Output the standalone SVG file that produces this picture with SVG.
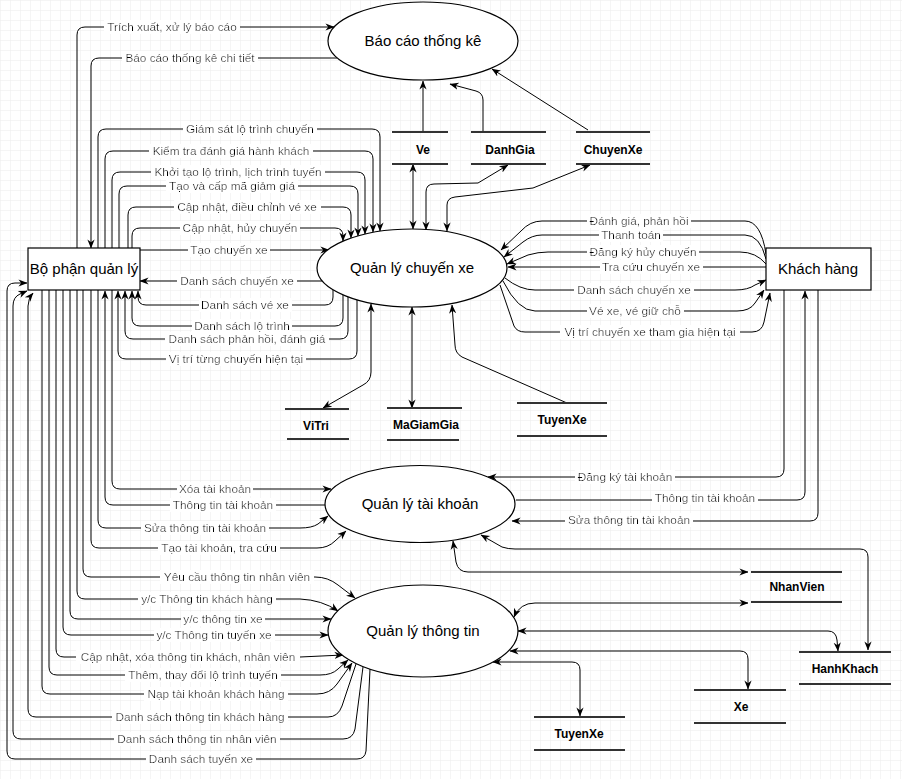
<svg xmlns="http://www.w3.org/2000/svg" width="902" height="779" viewBox="0 0 902 779">
<defs>
<pattern id="grid" width="10" height="10" patternUnits="userSpaceOnUse">
<path d="M10,0 L0,0 L0,10" fill="none" stroke="#ececec" stroke-width="1"/>
</pattern>
<marker id="arr" viewBox="0 0 10 10" refX="9.5" refY="5" markerWidth="9" markerHeight="9" markerUnits="userSpaceOnUse" orient="auto-start-reverse">
<path d="M0,1 L10,5 L0,9 L3,5 z" fill="#000"/>
</marker>
<filter id="bg" x="-0.02" y="0" width="1.04" height="1">
<feFlood flood-color="#fff"/>
<feComposite in="SourceGraphic" operator="over"/>
</filter>
</defs>
<style>
.proc{fill:#fff;stroke:#000;stroke-width:1.2}
.ext{fill:#fff;stroke:#000;stroke-width:1.2}
.nt{font-family:"Liberation Sans",Arial,sans-serif;font-size:15px;fill:#000;text-anchor:middle}
.st{stroke:#333;stroke-width:2}
.stt{font-family:"Liberation Sans",Arial,sans-serif;font-size:12px;font-weight:bold;fill:#000;text-anchor:middle}
.c{fill:none;stroke:#000;stroke-width:1}
.e{marker-end:url(#arr)}
.b{marker-start:url(#arr);marker-end:url(#arr)}
.lb{font-family:"Liberation Sans",Arial,sans-serif;font-size:11.8px;fill:#000;text-anchor:middle;filter:url(#bg)}
</style>
<rect x="0" y="0" width="902" height="779" fill="#fff"/>
<rect x="0" y="0" width="902" height="779" fill="url(#grid)"/>

<g id="connectors">
<!-- Bao cao thong ke -->
<path class="c e" d="M77,248 L77,35 Q77,27 85,27 L334,27"/>
<path class="c e" d="M337,58 L99,58 Q91,58 91,66 L91,248"/>
<path class="c e" d="M423,132 L423,81"/>
<path class="c e" d="M483,132 L483,100 Q483,93 476,91 L450,84"/>
<path class="c e" d="M588,130 L492,69"/>
<!-- stores of Quan ly chuyen xe -->
<path class="c b" d="M413,164 L413,229"/>
<path class="c b" d="M426,230 L426,192 Q426,184 434,184 L478,183 L508,165"/>
<path class="c b" d="M447,231 L447,205 Q447,198 455,197 L533,188 L590,165"/>
<path class="c b" d="M371,304 L371,372 Q371,381 363,385 L323,408"/>
<path class="c b" d="M412,307 L412,408"/>
<path class="c e" d="M567,403 L462,357 Q455,353 455,345 L452,305"/>
<!-- Bo phan quan ly -> Quan ly chuyen xe -->
<path class="c e" d="M98,248 L98,137 Q98,129 106,129 L372,129 Q380,129 380,137 L380,231"/>
<path class="c e" d="M105,248 L105,159 Q105,151 113,151 L365,151 Q373,151 373,159 L373,232"/>
<path class="c e" d="M112,248 L112,180 Q112,172 120,172 L357,172 Q365,172 365,180 L365,234"/>
<path class="c e" d="M119,248 L119,194 Q119,186 127,186 L350,186 Q358,186 358,194 L358,236"/>
<path class="c e" d="M128,248 L128,215 Q128,207 136,207 L343,207 Q351,207 351,215 L351,238"/>
<path class="c e" d="M132,248 L132,236 Q132,228 140,228 L335,228 Q343,228 343,236 L343,241"/>
<path class="c e" d="M140,250 L329,250"/>
<path class="c e" d="M322,281 L140,281"/>
<path class="c e" d="M333,290 L333,297 Q333,305 325,305 L146,305 Q138,305 138,297 L138,291"/>
<path class="c e" d="M343,295 L343,318 Q343,326 335,326 L140,326 Q132,326 132,318 L132,291"/>
<path class="c e" d="M348,297 L348,331 Q348,339 340,339 L133,339 Q125,339 125,331 L125,291"/>
<path class="c e" d="M357,300 L357,351 Q357,359 349,359 L126,359 Q118,359 118,351 L118,291"/>
<!-- Khach hang <-> Quan ly chuyen xe -->
<path class="c e" d="M766,254 Q761,221 745,221 L542,221 Q530,221 521,231 L501,250"/>
<path class="c e" d="M766,259 Q760,235 745,235 L542,235 Q532,235 523,242 L504,257"/>
<path class="c e" d="M766,264 Q756,252 740,252 L548,252 Q538,252 528,255 L507,264"/>
<path class="c e" d="M766,267 L508,267"/>
<path class="c e" d="M505,278 Q520,290 535,290 L735,290 Q748,290 755,285 L766,280"/>
<path class="c e" d="M503,281 Q518,311 535,311 L737,311 Q750,311 755,303 L764,290"/>
<path class="c e" d="M500,285 L514,326 Q517,332 525,332 L752,332 Q762,332 764,322 L770,293"/>
<!-- Khach hang <-> Quan ly tai khoan -->
<path class="c e" d="M784,290 L784,469 Q784,477 776,477 L488,477"/>
<path class="c e" d="M516,500 L797,500 Q805,500 805,492 L805,291"/>
<path class="c e" d="M818,290 L818,513 Q818,521 810,521 L512,521"/>
<!-- Quan ly tai khoan stores -->
<path class="c b" d="M453,541 L456,562 Q458,572 468,572 L748,572"/>
<path class="c b" d="M481,535 L502,547 Q508,549 515,549 L860,549 Q868,549 868,557 L868,650"/>
<!-- Quan ly thong tin stores -->
<path class="c b" d="M514,617 Q520,603 535,603 L748,603"/>
<path class="c b" d="M518,631 L828,631 Q836,631 837,640 L838,651"/>
<path class="c b" d="M510,651 L740,651 Q748,651 748,659 L748,689"/>
<path class="c b" d="M493,662 L572,662 Q580,662 580,670 L580,716"/>
<!-- Bo phan quan ly <-> Quan ly tai khoan -->
<path class="c e" d="M112,290 L112,481 Q112,489 120,489 L331,489"/>
<path class="c e" d="M325,505 L113,505 Q105,505 105,497 L105,291"/>
<path class="c e" d="M98,290 L98,520 Q98,528 106,528 L300,528 Q312,528 318,524 L328,516"/>
<path class="c e" d="M91,290 L91,540 Q91,548 99,548 L317,548 Q328,548 335,541 L346,531"/>
<!-- Bo phan quan ly <-> Quan ly thong tin -->
<path class="c e" d="M83,290 L83,569 Q83,577 91,577 L315,577 Q328,577 338,585 L355,598"/>
<path class="c e" d="M77,290 L77,591 Q77,599 85,599 L300,599 Q322,600 338,611"/>
<path class="c e" d="M70,290 L70,611 Q70,619 78,619 L331,619"/>
<path class="c e" d="M63,290 L63,627 Q63,635 71,635 L328,635"/>
<path class="c e" d="M56,290 L56,649 Q56,657 64,657 L300,657 L343,655"/>
<path class="c e" d="M49,290 L49,667 Q49,675 57,675 L320,675 Q332,675 338,669 L348,660"/>
<path class="c e" d="M42,290 L42,686 Q42,694 50,694 L317,694 Q330,694 337,684 L352,663"/>
<path class="c e" d="M356,664 L342,706 Q338,717 328,717 L36,717 Q28,717 28,709 L28,306 Q28,299 33,293"/>
<path class="c e" d="M363,667 L355,729 Q353,739 343,739 L21,739 Q13,739 13,731 L13,306 Q13,297 20,294 L27,291"/>
<path class="c e" d="M370,669 L366,751 Q365,759 357,759 L15,759 Q7,759 7,751 L7,291 Q7,283 15,283 L27,283"/>

<g id="labels">
<text class="lb" x="172" y="31">Trích xuất, xử lý báo cáo</text>
<text class="lb" x="190" y="62">Báo cáo thống kê chi tiết</text>
<text class="lb" x="250" y="133">Giám sát lộ trình chuyến</text>
<text class="lb" x="231" y="155">Kiểm tra đánh giá hành khách</text>
<text class="lb" x="238" y="176">Khởi tạo lộ trình, lịch trình tuyến</text>
<text class="lb" x="232" y="190">Tạo và cấp mã giảm giá</text>
<text class="lb" x="247" y="211">Cập nhật, điều chỉnh vé xe</text>
<text class="lb" x="240" y="232">Cập nhật, hủy chuyến</text>
<text class="lb" x="229" y="254">Tạo chuyến xe</text>
<text class="lb" x="237" y="285">Danh sách chuyến xe</text>
<text class="lb" x="245" y="309">Danh sách vé xe</text>
<text class="lb" x="242" y="330">Danh sách lộ trình</text>
<text class="lb" x="247" y="343">Danh sách phản hồi, đánh giá</text>
<text class="lb" x="236" y="363">Vị trí từng chuyến hiện tại</text>
<text class="lb" x="639" y="225">Đánh giá, phản hồi</text>
<text class="lb" x="631" y="239">Thanh toán</text>
<text class="lb" x="643" y="256">Đăng ký hủy chuyến</text>
<text class="lb" x="651" y="271">Tra cứu chuyến xe</text>
<text class="lb" x="634" y="294">Danh sách chuyến xe</text>
<text class="lb" x="635" y="315">Vé xe, vé giữ chỗ</text>
<text class="lb" x="650" y="336">Vị trí chuyến xe tham gia hiện tại</text>
<text class="lb" x="215" y="493">Xóa tài khoản</text>
<text class="lb" x="223" y="509">Thông tin tài khoản</text>
<text class="lb" x="205" y="532">Sửa thông tin tài khoản</text>
<text class="lb" x="219" y="552">Tạo tài khoản, tra cứu</text>
<text class="lb" x="625" y="481">Đăng ký tài khoản</text>
<text class="lb" x="705" y="502">Thông tin tài khoản</text>
<text class="lb" x="629" y="524">Sửa thông tin tài khoản</text>
<text class="lb" x="237" y="581">Yêu cầu thông tin nhân viên</text>
<text class="lb" x="207" y="603">y/c Thông tin khách hàng</text>
<text class="lb" x="223" y="623">y/c thông tin xe</text>
<text class="lb" x="214" y="639">y/c Thông tin tuyến xe</text>
<text class="lb" x="188" y="661">Cập nhật, xóa thông tin khách, nhân viên</text>
<text class="lb" x="203" y="679">Thêm, thay đổi lộ trình tuyến</text>
<text class="lb" x="216" y="698">Nạp tài khoản khách hàng</text>
<text class="lb" x="200" y="721">Danh sách thông tin khách hàng</text>
<text class="lb" x="197" y="743">Danh sách thông tin nhân viên</text>
<text class="lb" x="201" y="763">Danh sách tuyến xe</text>
</g>
</g>

<g id="bao-cao-thong-ke">
<ellipse class="proc" cx="423" cy="41" rx="95" ry="39"/>
<text class="nt" x="423" y="46">Báo cáo thống kê</text>
</g>
<g id="quan-ly-chuyen-xe">
<ellipse class="proc" cx="412" cy="268" rx="95" ry="39"/>
<text class="nt" x="412" y="273">Quản lý chuyến xe</text>
</g>
<g id="quan-ly-tai-khoan">
<ellipse class="proc" cx="420" cy="504" rx="95" ry="38.5"/>
<text class="nt" x="420" y="509">Quản lý tài khoản</text>
</g>
<g id="quan-ly-thong-tin">
<ellipse class="proc" cx="423" cy="631" rx="95" ry="46"/>
<text class="nt" x="423" y="636">Quản lý thông tin</text>
</g>
<g id="bo-phan-quan-ly">
<rect class="ext" x="28" y="248" width="112" height="42"/>
<text class="nt" x="84" y="274">Bộ phận quản lý</text>
</g>
<g id="khach-hang">
<rect class="ext" x="766" y="248" width="105" height="42"/>
<text class="nt" x="818" y="274">Khách hàng</text>
</g>

<g id="store-ve">
<line class="st" x1="392" y1="132" x2="448" y2="132"/>
<line class="st" x1="392" y1="164" x2="448" y2="164"/>
<text class="stt" x="423" y="154">Ve</text>
</g>
<g id="store-danhgia">
<line class="st" x1="471" y1="132" x2="546" y2="132"/>
<line class="st" x1="471" y1="164" x2="546" y2="164"/>
<text class="stt" x="510" y="154">DanhGia</text>
</g>
<g id="store-chuyenxe">
<line class="st" x1="576" y1="132" x2="650" y2="132"/>
<line class="st" x1="576" y1="164" x2="650" y2="164"/>
<text class="stt" x="613" y="154">ChuyenXe</text>
</g>
<g id="store-vitri">
<line class="st" x1="285" y1="409" x2="349" y2="409"/>
<line class="st" x1="287" y1="439" x2="349" y2="439"/>
<text class="stt" x="316" y="430">ViTri</text>
</g>
<g id="store-magiamgia">
<line class="st" x1="387" y1="408" x2="462" y2="408"/>
<line class="st" x1="387" y1="440" x2="459" y2="440"/>
<text class="stt" x="426" y="429">MaGiamGia</text>
</g>
<g id="store-tuyenxe-1">
<line class="st" x1="517" y1="403" x2="607" y2="403"/>
<line class="st" x1="517" y1="436" x2="607" y2="436"/>
<text class="stt" x="562" y="424">TuyenXe</text>
</g>
<g id="store-nhanvien">
<line class="st" x1="751" y1="572" x2="842" y2="572"/>
<line class="st" x1="751" y1="602" x2="842" y2="602"/>
<text class="stt" x="797" y="591">NhanVien</text>
</g>
<g id="store-hanhkhach">
<line class="st" x1="799" y1="652" x2="891" y2="652"/>
<line class="st" x1="799" y1="684" x2="891" y2="684"/>
<text class="stt" x="845" y="673">HanhKhach</text>
</g>
<g id="store-xe">
<line class="st" x1="694" y1="690" x2="786" y2="690"/>
<line class="st" x1="694" y1="723" x2="786" y2="723"/>
<text class="stt" x="741" y="711">Xe</text>
</g>
<g id="store-tuyenxe-2">
<line class="st" x1="534" y1="717" x2="625" y2="717"/>
<line class="st" x1="534" y1="750" x2="625" y2="750"/>
<text class="stt" x="579" y="738">TuyenXe</text>
</g>
</svg>
